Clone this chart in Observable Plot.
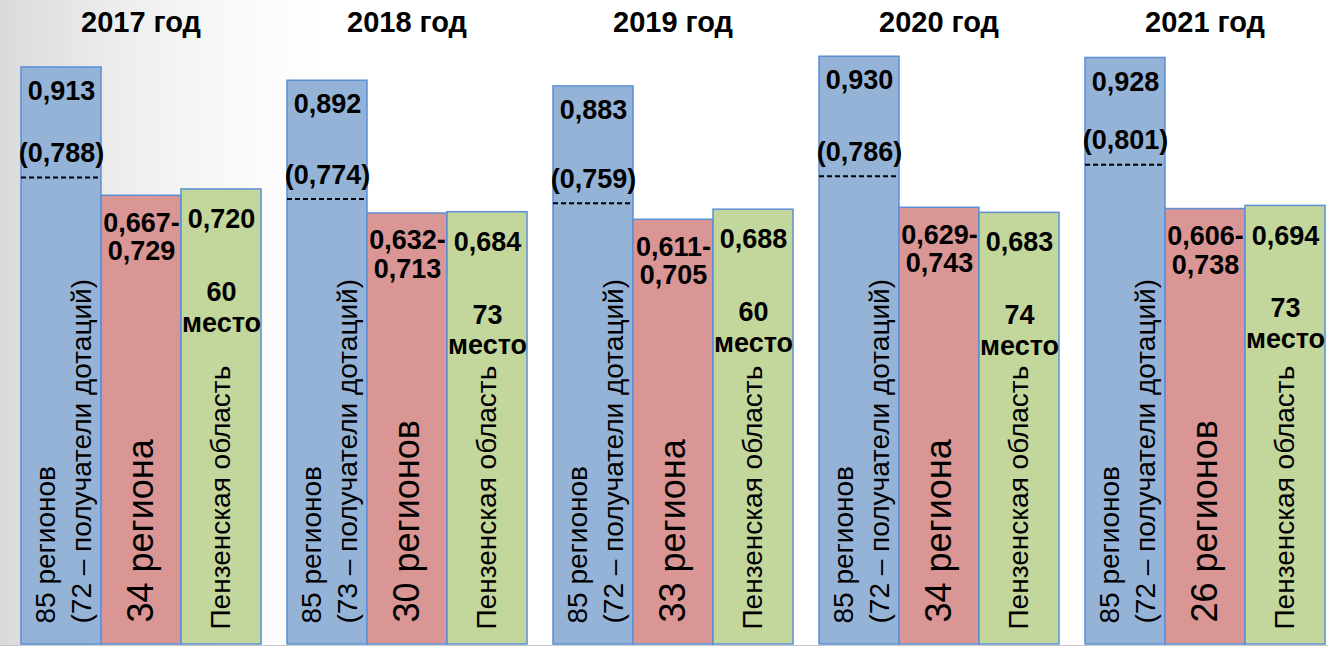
<!DOCTYPE html>
<html>
<head>
<meta charset="utf-8">
<script src="https://cdn.jsdelivr.net/npm/d3@7"></script>
<script src="https://cdn.jsdelivr.net/npm/@observablehq/plot@0.6"></script>
<style>
  html, body { margin: 0; padding: 0; }
  body {
    width: 1328px; height: 646px; overflow: hidden; position: relative;
    background: linear-gradient(90deg, #dadada 0px, #ececec 110px, #f8f8f8 220px, #ffffff 320px);
  }
  #chart { position: absolute; left: 0; top: 0; }
  #baseline { position: absolute; left: 0; top: 645px; width: 1328px; height: 1px; background: #c8c8c8; }
</style>
</head>
<body>
<div id="chart"></div>
<div id="baseline"></div>
<script>
// ---- data ----
const years = ["2017", "2018", "2019", "2020", "2021"];
const categories = ["all", "group", "penza"];
// all 85 regions: index value (blue bar)
const allValues = [0.913, 0.892, 0.883, 0.930, 0.928];
// average of dotation recipients (label in brackets)
const recipientAvg = [0.788, 0.774, 0.759, 0.786, 0.801];
// level where the dashed line is drawn inside the blue bar
const dashLevel = [0.739, 0.705, 0.698, 0.741, 0.759];
// number of dotation recipients
const recipientCount = [72, 73, 72, 72, 72];
// group of regions: range low / high and drawn bar height (estimated)
const groupLow = [0.667, 0.632, 0.611, 0.629, 0.606];
const groupHigh = [0.729, 0.713, 0.705, 0.743, 0.738];
const groupBar = [0.710, 0.682, 0.672, 0.691, 0.689];
const groupCount = ["34 региона", "30 регионов", "33 региона", "34 региона", "26 регионов"];
// Penza region value and rank
const penzaValues = [0.720, 0.684, 0.688, 0.683, 0.694];
const penzaRank = [60, 73, 60, 74, 73];
const colors = ["#95B3D7", "#D99694", "#C3D69B"];

// ---- build tables ----
const fmt = v => d3.format(".3f")(v).replace(".", ",");
const bars = years.flatMap((year, i) => [
  {year, cat: "all", h: allValues[i]},
  {year, cat: "group", h: groupBar[i]},
  {year, cat: "penza", h: penzaValues[i]}
]);
const rows = years.map((year, i) => ({
  year,
  all: allValues[i],
  allLabel: fmt(allValues[i]),
  dash: dashLevel[i],
  avgLabel: "(" + fmt(recipientAvg[i]) + ")",
  allText: "85 регионов\n(" + recipientCount[i] + " – получатели дотаций)",
  group: groupBar[i],
  groupLabel: fmt(groupLow[i]) + "-\n" + fmt(groupHigh[i]),
  groupText: groupCount[i],
  penza: penzaValues[i],
  penzaLabel: fmt(penzaValues[i]),
  rankLabel: penzaRank[i] + "\nместо"
}));

const font = "'Liberation Sans', Arial, sans-serif";
const bold = {fontWeight: "bold", fontSize: 27, fill: "black"};

const chart = Plot.plot({
  width: 1328,
  height: 646,
  marginTop: 12,
  marginBottom: 2,
  marginLeft: 20,
  marginRight: 3,
  style: {background: "transparent", fontFamily: font},
  fx: {domain: years, paddingInner: 0.094, paddingOuter: 0, axis: null},
  x: {domain: categories, padding: 0, axis: null},
  y: {domain: [0, 1], axis: null},
  color: {domain: categories, range: colors},
  marks: [
    Plot.barY(bars, {fx: "year", x: "cat", y: "h", fill: "cat", stroke: "#5B8FD6", strokeWidth: 1.5, inset: 0}),
    Plot.tickY(rows, {fx: "year", x: () => "all", y: "dash", stroke: "black", strokeWidth: 2, strokeDasharray: "5,3"}),
    // year titles
    Plot.text(rows, {fx: "year", frameAnchor: "top", text: d => d.year + " год", dy: -1, fontWeight: "bold", fontSize: 29, fill: "black"}),
    // blue labels
    Plot.text(rows, {fx: "year", x: () => "all", y: "all", text: "allLabel", dy: 24, ...bold}),
    Plot.text(rows, {fx: "year", x: () => "all", y: "dash", text: "avgLabel", dy: -24, ...bold}),
    // red labels
    Plot.text(rows, {fx: "year", x: () => "group", y: "group", text: "groupLabel", dy: 41, lineHeight: 1.07, ...bold}),
    // green labels
    Plot.text(rows, {fx: "year", x: () => "penza", y: "penza", text: "penzaLabel", dy: 30, ...bold}),
    Plot.text(rows, {fx: "year", x: () => "penza", y: "penza", text: "rankLabel", dy: 117, lineHeight: 1.14, ...bold}),
    // rotated labels
    Plot.text(rows, {fx: "year", x: () => "all", y: () => 0, text: "allText", rotate: -90, textAnchor: "start", dy: -21, fontSize: 28, lineHeight: 1.27, fill: "black"}),
    Plot.text(rows, {fx: "year", x: () => "group", y: () => 0, text: "groupText", rotate: -90, textAnchor: "start", dy: -22, fontSize: 36, fill: "black"}),
    Plot.text(rows, {fx: "year", x: () => "penza", y: () => 0, text: () => "Пензенская область", rotate: -90, textAnchor: "start", dy: -15, fontSize: 28, fill: "black"})
  ]
});
document.getElementById("chart").appendChild(chart);
</script>
</body>
</html>
